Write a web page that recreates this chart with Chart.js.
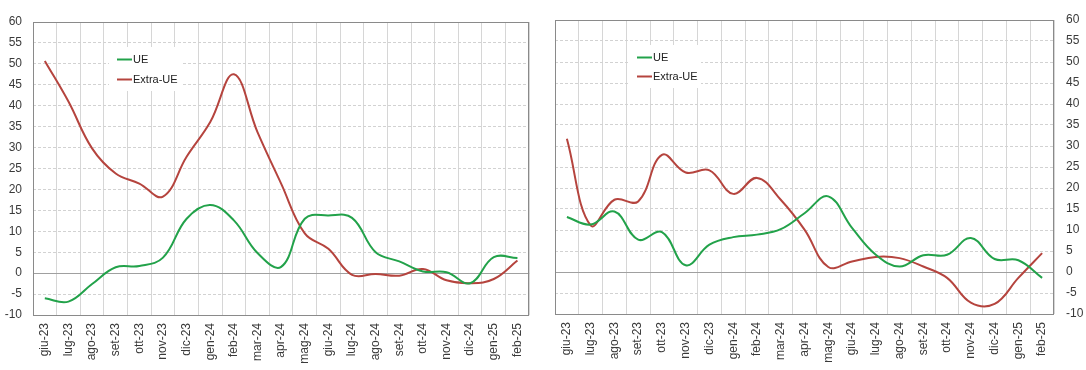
<!DOCTYPE html>
<html>
<head>
<meta charset="utf-8">
<script src="https://cdn.jsdelivr.net/npm/chart.js@4.4.1/dist/chart.umd.min.js"></script>
<style>
  html, body { margin: 0; padding: 0; background: #fff; }
  .wrap { display: flex; width: 1086px; height: 370px; }
  canvas { display: block; }
</style>
</head>
<body>
<div class="wrap">
  <canvas id="grafikSx" width="540" height="370"></canvas>
  <canvas id="grafikDx" width="546" height="370"></canvas>
</div>
<script>
/* ===== DATI ===== */
const mesi = ["giu-23","lug-23","ago-23","set-23","ott-23","nov-23","dic-23","gen-24","feb-24","mar-24","apr-24",
              "mag-24","giu-24","lug-24","ago-24","set-24","ott-24","nov-24","dic-24","gen-25","feb-25"];

// grafico di sinistra
const ueSx    = [-6.0, -6.8, -2.6, 1.4, 1.7, 3.7, 13.0, 16.3, 12.6, 4.8, 1.5, 13.0, 13.8, 13.2, 5.0, 2.8, 0.4, 0.2, -2.4, 3.8, 3.6];
const extraSx = [50.7, 41.0, 29.8, 23.8, 21.4, 18.3, 27.8, 36.1, 47.5, 33.7, 21.4, 9.5, 5.8, -0.4, -0.2, -0.6, 1.0, -1.7, -2.4, -1.4, 3.0];

// grafico di destra
const ueDx    = [13.1, 11.3, 14.4, 7.7, 9.5, 1.6, 6.5, 8.3, 8.9, 10.2, 14.0, 18.0, 10.5, 4.1, 1.3, 4.0, 4.1, 8.1, 3.1, 2.8, -1.4];
const extraDx = [31.7, 11.1, 17.2, 16.8, 27.9, 23.7, 24.2, 18.6, 22.4, 17.2, 10.1, 1.2, 2.5, 3.6, 3.3, 1.3, -1.4, -7.3, -7.6, -1.4, 4.5];

const yMin = -10, yMax = 60, yStep = 5;

/* ===== STILE ===== */
const VERDE = "#22a24a";
const ROSSO = "#b5443e";
const TESTO = "#3a3a3a";
const FONT = "'Liberation Sans', Arial, sans-serif";

/* ===== PLUGIN: cornice, linea dello zero, legenda ===== */
const cornice = {
  id: "cornice",
  beforeDatasetsDraw(chart) {
    const { ctx, chartArea: a, scales } = chart;
    const y0 = scales.y.getPixelForValue(0);
    ctx.save();
    ctx.strokeStyle = "#a0a0a0";
    ctx.lineWidth = 1;
    ctx.beginPath();
    ctx.moveTo(a.left, Math.round(y0) + 0.5);
    ctx.lineTo(a.right, Math.round(y0) + 0.5);
    ctx.stroke();
    ctx.strokeStyle = "#8a8a8a";
    ctx.strokeRect(Math.round(a.left) + 0.5, Math.round(a.top) + 0.5,
                   Math.round(a.right - a.left) - 1, Math.round(a.bottom - a.top));
    ctx.restore();
  }
};

const legenda = {
  id: "legenda",
  beforeDatasetsDraw(chart, args, opts) {
    const { ctx } = chart;
    const x = opts.x, y = opts.y, gap = opts.gap;
    ctx.save();
    ctx.fillStyle = "#fff";
    ctx.fillRect(x - 8, y - 12, 72, gap + 24);
    ctx.font = "11px " + FONT;
    ctx.textBaseline = "middle";
    chart.data.datasets.forEach((ds, i) => {
      const yy = Math.round(y + i * gap) + 0.5;
      ctx.strokeStyle = ds.borderColor;
      ctx.lineWidth = 2;
      ctx.beginPath();
      ctx.moveTo(x, yy);
      ctx.lineTo(x + 15, yy);
      ctx.stroke();
      ctx.fillStyle = "#222";
      ctx.fillText(ds.label, x + 16, yy);
    });
    ctx.restore();
  }
};

function makeChart(el, ue, extra, lato, padding, leg) {
  return new Chart(el, {
    type: "line",
    data: {
      labels: mesi,
      datasets: [
        { label: "UE", data: ue, borderColor: VERDE, borderWidth: 2, pointRadius: 0, tension: 0.4 },
        { label: "Extra-UE", data: extra, borderColor: ROSSO, borderWidth: 2, pointRadius: 0, tension: 0.4 }
      ]
    },
    options: {
      responsive: false,
      animation: false,
      layout: { padding },
      plugins: {
        legend: { display: false },
        tooltip: { enabled: false },
        legenda: leg
      },
      scales: {
        x: {
          offset: true,
          grid: { offset: true, color: "#d6d6d6", drawTicks: false },
          border: { display: false },
          ticks: {
            autoSkip: false, minRotation: 90, maxRotation: 90, padding: 8,
            color: TESTO, font: { family: FONT, size: 12 }
          },
          afterFit: s => { s.height = lato === "left" ? 55 : 56; }
        },
        y: {
          position: lato,
          min: yMin, max: yMax,
          grid: { color: "#d2d2d2", drawTicks: false },
          border: { display: false, dash: [3, 2] },
          ticks: {
            stepSize: yStep, padding: lato === "left" ? 11 : 12,
            color: TESTO, font: { family: FONT, size: 12 }
          },
          afterFit: s => { s.width = lato === "left" ? 33 : 32; }
        }
      }
    },
    plugins: [cornice, legenda]
  });
}

const chartSx = makeChart(document.getElementById("grafikSx"), ueSx, extraSx, "left",
  { top: 22, right: 7, left: 0, bottom: 0 }, { x: 117, y: 59, gap: 20 });
const chartDx = makeChart(document.getElementById("grafikDx"), ueDx, extraDx, "right",
  { top: 20, right: 0, left: 15, bottom: 0 }, { x: 97, y: 57, gap: 19 });
</script>
</body>
</html>
